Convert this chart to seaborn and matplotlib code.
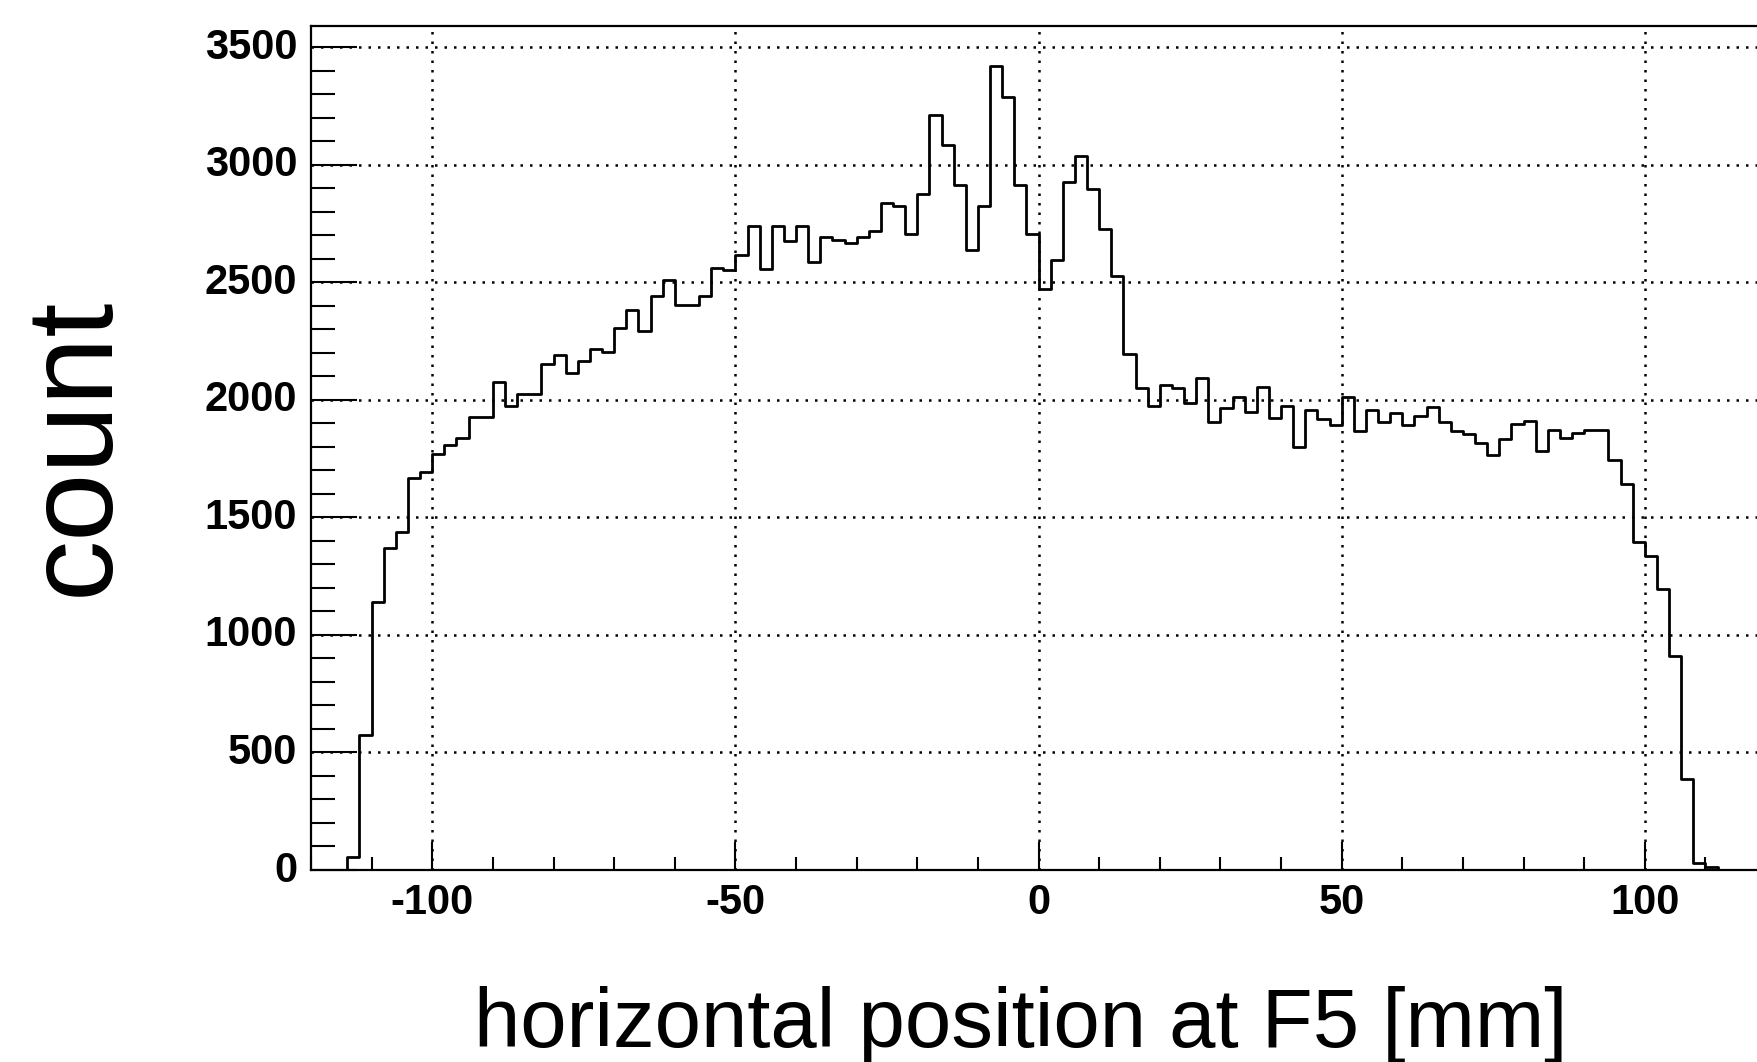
import numpy as np
import pandas as pd
import matplotlib
matplotlib.use("Agg")
import matplotlib.pyplot as plt
import matplotlib.transforms as mtransforms
from matplotlib.ticker import MultipleLocator, FixedLocator
import seaborn as sns

# Histogram binning along the horizontal position at F5 (mm)
x_low, x_high, bin_width = -120, 120, 2

# Counts per 2 mm bin, from -120 mm up to +120 mm
counts_m120_m100 = [0, 0, 0, 54, 576, 1141, 1371, 1438, 1668, 1695]
counts_m100_m80 = [1769, 1810, 1836, 1926, 1926, 2077, 1975, 2025, 2025, 2152]
counts_m80_m60 = [2193, 2114, 2166, 2218, 2204, 2307, 2383, 2293, 2444, 2510]
counts_m60_m40 = [2404, 2404, 2444, 2563, 2553, 2615, 2739, 2559, 2742, 2678]
counts_m40_m20 = [2742, 2586, 2693, 2679, 2668, 2693, 2719, 2837, 2827, 2705]
counts_m20_0 = [2877, 3213, 3083, 2913, 2640, 2825, 3420, 3291, 2913, 2705]
counts_0_20 = [2474, 2594, 2926, 3040, 2898, 2728, 2528, 2194, 2052, 1976]
counts_20_40 = [2064, 2052, 1986, 2092, 1908, 1965, 2014, 1950, 2054, 1922]
counts_40_60 = [1974, 1801, 1957, 1919, 1895, 2014, 1869, 1957, 1908, 1945]
counts_60_80 = [1895, 1933, 1972, 1908, 1869, 1855, 1817, 1766, 1833, 1897]
counts_80_100 = [1910, 1782, 1874, 1836, 1860, 1874, 1874, 1744, 1641, 1397]
counts_100_120 = [1337, 1195, 912, 389, 31, 11, 0, 0, 0, 0]

counts = (counts_m120_m100 + counts_m100_m80 + counts_m80_m60 + counts_m60_m40
          + counts_m40_m20 + counts_m20_0 + counts_0_20 + counts_20_40
          + counts_40_60 + counts_60_80 + counts_80_100 + counts_100_120)

x_major_ticks = [-100, -50, 0, 50, 100]
x_tick_labels = ["-100", "-50", "0", "50", "100"]
y_major_ticks = [0, 500, 1000, 1500, 2000, 2500, 3000, 3500]
y_tick_labels = ["0", "500", "1000", "1500", "2000", "2500", "3000", "3500"]

x_label = "horizontal position at F5 [mm]"
y_label = "count"

edges = np.arange(x_low, x_high + bin_width, bin_width)
centers = 0.5 * (edges[:-1] + edges[1:])
df = pd.DataFrame({"position": centers, "count": counts})

sns.set_style("ticks")
plt.rcParams["font.family"] = ["Liberation Sans", "DejaVu Sans"]
plt.rcParams["text.color"] = "black"
plt.rcParams["xtick.color"] = "black"
plt.rcParams["ytick.color"] = "black"
plt.rcParams["axes.labelcolor"] = "black"

W, H = 1757, 1062
fig = plt.figure(figsize=(W / 100, H / 100), dpi=100)
fig.patch.set_facecolor("white")

# Frame runs past the right edge of the canvas
left_px, right_px, top_px, bottom_px = 311, 1766, 26, 870
ax = fig.add_axes([left_px / W, 1 - bottom_px / H,
                   (right_px - left_px) / W, (bottom_px - top_px) / H])

sns.histplot(data=df, x="position", weights="count",
             binwidth=bin_width, binrange=(x_low, x_high),
             element="step", fill=False, color="black", linewidth=2.0, ax=ax)

ax.set_xlim(x_low, x_high)
ax.set_ylim(0, 1.05 * max(counts))

ax.xaxis.set_major_locator(FixedLocator(x_major_ticks))
ax.set_xticklabels(x_tick_labels)
ax.xaxis.set_minor_locator(MultipleLocator(10))
ax.yaxis.set_major_locator(FixedLocator(y_major_ticks))
ax.set_yticklabels(y_tick_labels)
ax.yaxis.set_minor_locator(MultipleLocator(100))

ax.grid(True, which="major", color="black", linestyle=(0, (1, 2.8)),
        linewidth=1.8)
ax.set_axisbelow(True)

for side in ["left", "right", "top", "bottom"]:
    ax.spines[side].set_visible(True)
    ax.spines[side].set_linewidth(1.6)
    ax.spines[side].set_color("black")

ax.tick_params(axis="both", which="both", direction="in", color="black",
               width=1.5, top=False, right=False, labelcolor="black")
ax.tick_params(axis="y", which="major", length=33, pad=10,
               labelsize=30)
ax.tick_params(axis="y", which="minor", length=17)
ax.tick_params(axis="x", which="major", length=20, pad=9,
               labelsize=30)
ax.tick_params(axis="x", which="minor", length=9.5)
for lab in ax.get_xticklabels() + ax.get_yticklabels():
    lab.set_fontweight("bold")

# nudge the count labels slightly upward
lift = mtransforms.ScaledTranslation(0, 4 / 100, fig.dpi_scale_trans)
for lab in ax.get_yticklabels():
    lab.set_transform(lab.get_transform() + lift)

ax.set_xlabel("")
ax.set_ylabel("")

fig.text(1021 / W, 1 - 1047 / H, x_label, fontsize=60, color="black",
         ha="center", va="baseline")
fig.text(108 / W, 1 - 446 / H, y_label, fontsize=88, rotation=90,
         color="black", rotation_mode="anchor", ha="center", va="baseline")

fig.savefig("out.png", dpi=100)
